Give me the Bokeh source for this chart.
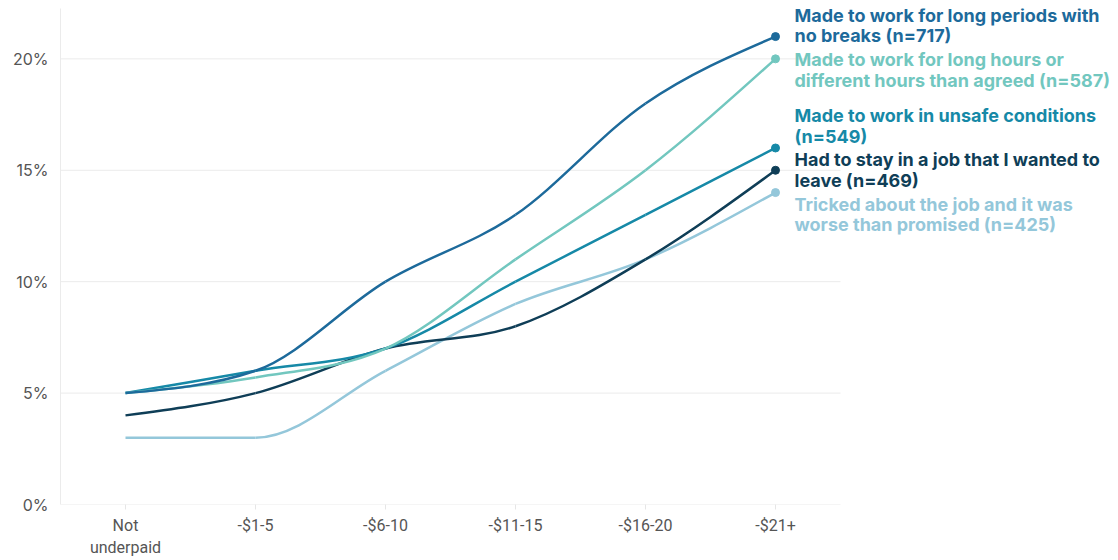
import numpy as np
from bokeh.plotting import figure
from bokeh.models import Range1d, FixedTicker, PrintfTickFormatter, Label
from bokeh.embed import file_html
from bokeh.resources import INLINE

# Hourly underpayment bands
categories = ["Not\nunderpaid", "-$1-5", "-$6-10", "-$11-15", "-$16-20", "-$21+"]

# Share of respondents (%) reporting each experience, by underpayment band
long_periods = [5, 6, 10, 13, 18, 21]
long_hours = [5, 5.7, 7, 11, 15, 20]
unsafe = [5, 6, 7, 10, 13, 16]
stay_job = [4, 5, 7, 8, 11, 15]
tricked = [3, 3, 6, 9, 11, 14]

series_names = [
    "Made to work for long periods with\nno breaks (n=717)",
    "Made to work for long hours or\ndifferent hours than agreed (n=587)",
    "Made to work in unsafe conditions\n(n=549)",
    "Had to stay in a job that I wanted to\nleave (n=469)",
    "Tricked about the job and it was\nworse than promised (n=425)",
]
series_values = [long_periods, long_hours, unsafe, stay_job, tricked]
series_colors = ["#1d6a9b", "#72c7bf", "#1689a7", "#0f3e57", "#94c7da"]
label_shift = [11, -11, 22, 0, -22]

y_ticks = [0, 5, 10, 15, 20]


def monotone_tangents(x, y):
    """Tangents for a monotone-x cubic (same scheme as d3.curveMonotoneX)."""
    n = len(x)
    t = np.zeros(n)
    for i in range(1, n - 1):
        h0 = x[i] - x[i - 1]
        h1 = x[i + 1] - x[i]
        s0 = (y[i] - y[i - 1]) / h0
        s1 = (y[i + 1] - y[i]) / h1
        p = (s0 * h1 + s1 * h0) / (h0 + h1)
        t[i] = (np.sign(s0) + np.sign(s1)) * min(abs(s0), abs(s1), 0.5 * abs(p))
    h = x[1] - x[0]
    t[0] = (3 * (y[1] - y[0]) / h - t[1]) / 2
    h = x[-1] - x[-2]
    t[-1] = (3 * (y[-1] - y[-2]) / h - t[-2]) / 2
    return t


n_cat = len(categories)
xs = np.arange(n_cat) + 0.5

# the frame runs to the right edge so the end labels are not clipped;
# the chart body itself spans x = 0 .. n_cat
plot_left = 60
unit_px = 130.0
x_max = (1118 - plot_left) / unit_px

p = figure(
    width=1118, height=560,
    x_range=Range1d(0, x_max),
    y_range=Range1d(0, 22.26),
    output_backend="svg", toolbar_location=None,
    min_border_left=plot_left, min_border_right=0,
    min_border_top=8, min_border_bottom=50,
)
p.outline_line_color = None
p.background_fill_color = "white"
p.border_fill_color = "white"

# axes
p.xaxis.ticker = FixedTicker(ticks=list(xs))
p.xaxis.major_label_overrides = {float(v): c for v, c in zip(xs, categories)}
p.xaxis.axis_line_color = None
p.xaxis.major_tick_line_color = "#e6e6e6"
p.xaxis.major_tick_in = 0
p.xaxis.major_tick_out = 5
p.xaxis.minor_tick_line_color = None
p.xaxis.major_label_text_font = "Roboto"
p.xaxis.major_label_text_font_size = "16px"
p.xaxis.major_label_text_color = "#555555"
p.xaxis.major_label_standoff = 6

p.yaxis.ticker = FixedTicker(ticks=y_ticks)
p.yaxis.formatter = PrintfTickFormatter(format="%d%%")
p.yaxis.axis_line_color = "#ebebeb"
p.yaxis.major_tick_line_color = None
p.yaxis.minor_tick_line_color = None
p.yaxis.major_label_text_font = "Inter"
p.yaxis.major_label_text_font_size = "16px"
p.yaxis.major_label_text_color = "#555555"
p.yaxis.major_label_standoff = 6

p.xgrid.grid_line_color = None
p.ygrid.grid_line_color = None

# horizontal gridlines limited to the chart body
p.segment(x0=[0] * len(y_ticks), x1=[n_cat] * len(y_ticks), y0=y_ticks, y1=y_ticks,
          line_color="#ebebeb", line_width=1, level="underlay")

# draw back to front so the first series sits on top
for name, vals, color, shift in reversed(list(zip(series_names, series_values, series_colors, label_shift))):
    y = np.array(vals, dtype=float)
    t = monotone_tangents(xs, y)
    dx = np.diff(xs) / 3.0
    p.bezier(
        x0=xs[:-1], y0=y[:-1], x1=xs[1:], y1=y[1:],
        cx0=xs[:-1] + dx, cy0=y[:-1] + dx * t[:-1],
        cx1=xs[1:] - dx, cy1=y[1:] - dx * t[1:],
        line_color=color, line_width=2.5,
    )
    p.scatter(x=[xs[-1]], y=[y[-1]], size=8, fill_color=color, line_color=color)
    p.add_layout(Label(
        x=xs[-1], y=y[-1], x_offset=19, y_offset=shift,
        text=name, text_color=color, text_font="Inter",
        text_font_style="bold", text_font_size="18px",
        text_baseline="middle", text_align="left", text_line_height=0.98,
    ))

open("out.html", "w").write(file_html(p, INLINE))
